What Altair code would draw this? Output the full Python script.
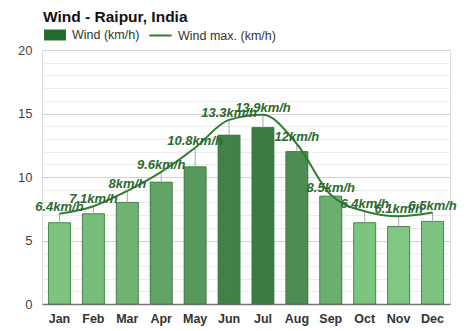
import altair as alt
import pandas as pd

months = ["Jan", "Feb", "Mar", "Apr", "May", "Jun", "Jul", "Aug", "Sep", "Oct", "Nov", "Dec"]
wind = [6.4, 7.1, 8.0, 9.6, 10.8, 13.3, 13.9, 12.0, 8.5, 6.4, 6.1, 6.5]
wind_max = [7.1, 7.7, 8.9, 10.4, 12.3, 14.5, 14.9, 12.6, 8.6, 7.3, 6.9, 7.2]
series_names = ["Wind (km/h)", "Wind max. (km/h)"]

df = pd.DataFrame({
    "month": months,
    "wind": wind,
    "wind_max": wind_max,
    "label": [f"{v:g}km/h" for v in wind],
    "s_bar": series_names[0],
    "s_line": series_names[1],
})

FONT = "Liberation Sans"

x = alt.X(
    "month:N", sort=months, title=None,
    scale=alt.Scale(paddingInner=0.35, paddingOuter=0.19),
    axis=alt.Axis(labelAngle=0, ticks=False, domainColor="#777", domainWidth=1.5,
                  labelFontWeight="bold", labelFontSize=12.5, labelColor="#333",
                  labelPadding=8, grid=False, labelFont=FONT),
)
yscale = alt.Scale(domain=[0, 20], nice=False)
yaxis_major = alt.Axis(
    values=[0, 5, 10, 15, 20], grid=True, gridColor="#d2d2d2", orient="left",
    domain=False, ticks=False, labelFontSize=13, labelColor="#444", labelPadding=10,
    labelFont=FONT, title=None,
)
yaxis_minor = alt.Axis(
    values=[v for v in range(0, 21) if v % 5], grid=True, gridColor="#ececec", orient="left",
    domain=False, ticks=False, labels=False, title=None,
)

base = alt.Chart(df)

legend_common = dict(title=None, orient="none", direction="horizontal", labelFontSize=12.5,
                     labelColor="#333", labelFont=FONT, labelOffset=5)

# hidden layer under the bars: minor grid + bar legend entry
bar_key = base.mark_bar().encode(
    x=x,
    y=alt.Y("wind:Q", scale=yscale, axis=yaxis_minor),
    fill=alt.Fill("s_bar:N", scale=alt.Scale(domain=[series_names[0]], range=["#236b2e"]),
                  legend=alt.Legend(symbolType="M-1,-0.5H1V0.5H-1Z", symbolSize=480,
                                    legendX=1, legendY=-27, **legend_common)),
)

bars = base.mark_bar(stroke="#3d7542", strokeWidth=1, strokeOpacity=0.75).encode(
    x=x,
    y=alt.Y("wind:Q", scale=yscale, axis=yaxis_major),
    color=alt.Color("wind:Q", scale=alt.Scale(domain=[6, 14], range=["#80c883", "#3c7a43"]), legend=None),
)

whisk = base.mark_rule(color="#aaaaaa", strokeWidth=1).encode(
    x=alt.X("month:N", sort=months),
    y=alt.Y("wind:Q", scale=yscale, axis=None),
    y2="wind_max:Q",
)

line = base.mark_line(interpolate="monotone", strokeWidth=2).encode(
    x=alt.X("month:N", sort=months),
    y=alt.Y("wind_max:Q", scale=yscale, axis=None),
    stroke=alt.Stroke(
        "s_line:N",
        scale=alt.Scale(domain=[series_names[1]], range=["#2e7d32"]),
        legend=alt.Legend(symbolType="M-1,0H1", symbolSize=500, symbolStrokeWidth=2,
                          legendX=106, legendY=-27, **legend_common),
    ),
)

text = base.mark_text(
    dy=-7, baseline="middle", align="center", fontStyle="italic", fontWeight="bold",
    fontSize=13, color="#2a6a2e", font=FONT,
).encode(
    x=alt.X("month:N", sort=months),
    y=alt.Y("wind_max:Q", scale=yscale, axis=None),
    text="label:N",
)

chart = alt.layer(bar_key, bars, whisk, line, text).resolve_axis(y="independent").properties(
    width=408, height=254,
    title=alt.Title("Wind - Raipur, India", anchor="start", frame="group", fontSize=15.5,
                    fontWeight="bold", color="#111", font=FONT, dx=1, dy=5, offset=3),
    autosize=alt.AutoSizeParams(type="none"),
    padding={"left": 42, "top": 50, "right": 24, "bottom": 27},
).configure_view(strokeWidth=0).configure(background="white")

chart.save("out.html", embed_options={"renderer": "svg", "actions": False})
